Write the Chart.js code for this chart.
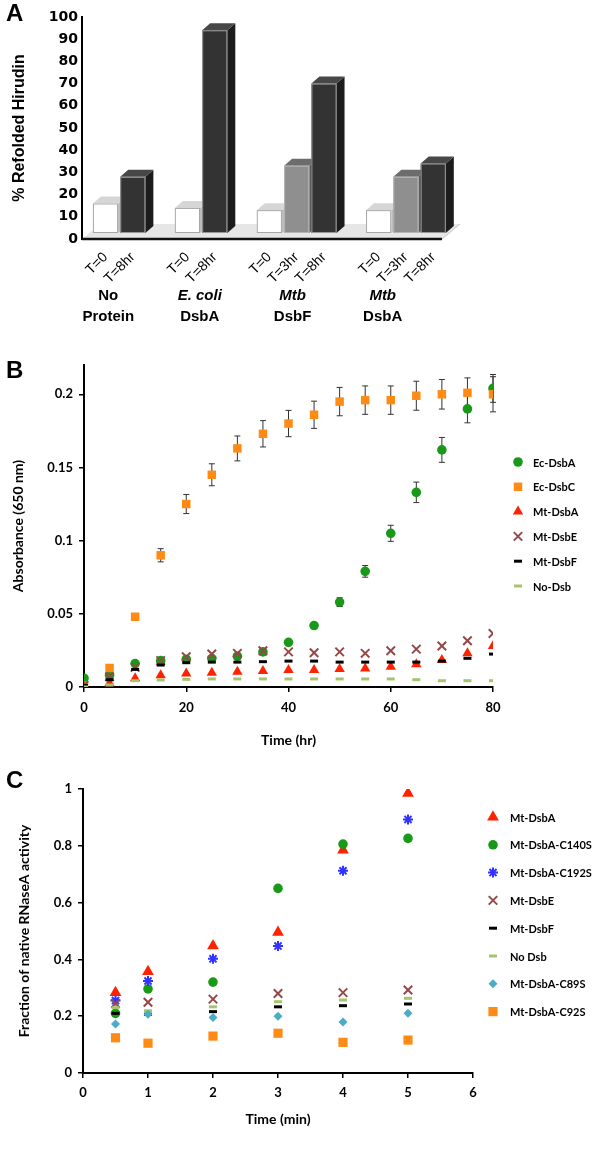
<!DOCTYPE html>
<html lang="en">
<head>
<meta charset="UTF-8">
<title>Disulfide oxidase activity</title>
<script src="https://cdn.jsdelivr.net/npm/chart.js"></script>
<style>
    body { margin: 0; background: #fff; }
    #page { position: relative; width: 600px; height: 1149px; overflow: hidden; }
    #page canvas { position: absolute; left: 0; }
    .tag { position: absolute; left: 6px; font: bold 24px "Liberation Sans", Arial, sans-serif; line-height: 1; }
</style>
</head>
<body>
<div id="page">
    <canvas id="chartA" width="600" height="330" style="top:0"></canvas>
    <canvas id="chartB" width="600" height="420" style="top:340px"></canvas>
    <canvas id="chartC" width="600" height="379" style="top:770px"></canvas>
    <div class="tag" style="top:1px">A</div>
    <div class="tag" style="top:358px">B</div>
    <div class="tag" style="top:768px">C</div>
</div>

<script>
// ---------- A: hirudin refolding ----------
const refoldLabels = ['T=0', 'T=8hr', 'T=0', 'T=8hr', 'T=0', 'T=3hr', 'T=8hr', 'T=0', 'T=3hr', 'T=8hr'];
const refoldSlots = [0, 1, 3, 4, 6, 7, 8, 10, 11, 12];
const refoldValues = [16, 28, 14, 94, 13, 33, 70, 13, 28, 34];
const groupTop = ['No', 'E. coli', 'Mtb', 'Mtb'];
const groupBottom = ['Protein', 'DsbA', 'DsbF', 'DsbA'];
const groupItalic = [false, true, true, true];
const groupAt = [0.1, 3.45, 6.85, 10.15];

// ---------- B: insulin reduction (absorbance) ----------
const hours = [0, 5, 10, 15, 20, 25, 30, 35, 40, 45, 50, 55, 60, 65, 70, 75, 80];
const ecDsbA = [0.006, 0.008, 0.016, 0.018, 0.019, 0.0195, 0.021, 0.024, 0.0305, 0.042, 0.058, 0.079, 0.105, 0.133, 0.162, 0.190, 0.204];
const ecDsbAErr = [0, 0, 0, 0, 0, 0, 0, 0, 0.001, 0.0015, 0.003, 0.004, 0.0055, 0.007, 0.0085, 0.0095, 0.0095];
const ecDsbC = [0.001, 0.013, 0.048, 0.090, 0.125, 0.145, 0.163, 0.173, 0.180, 0.186, 0.195, 0.196, 0.196, 0.199, 0.200, 0.201, 0.200];
const ecDsbCErr = [0, 0, 0.001, 0.0045, 0.0065, 0.0075, 0.0085, 0.009, 0.009, 0.0093, 0.0097, 0.0097, 0.0097, 0.0099, 0.0101, 0.0102, 0.012];
const mtDsbAAbs = [0.000, 0.0025, 0.006, 0.008, 0.0093, 0.0098, 0.0105, 0.011, 0.0116, 0.0116, 0.0123, 0.0127, 0.0139, 0.0155, 0.0184, 0.023, 0.028];
const mtDsbEAbs = [0.001, 0.007, 0.0134, 0.018, 0.0207, 0.0225, 0.023, 0.0248, 0.024, 0.0234, 0.024, 0.023, 0.0248, 0.0259, 0.028, 0.0316, 0.0366];
const mtDsbFAbs = [0.001, 0.005, 0.012, 0.015, 0.0166, 0.017, 0.017, 0.0173, 0.0177, 0.0177, 0.017, 0.017, 0.017, 0.017, 0.0177, 0.0196, 0.0225];
const noDsbAbs = [0.000, 0.0014, 0.0043, 0.0048, 0.0052, 0.0055, 0.0055, 0.0055, 0.0055, 0.0055, 0.0055, 0.0055, 0.0055, 0.005, 0.0043, 0.0043, 0.0043];
const absNames = ['Ec-DsbA', 'Ec-DsbC', 'Mt-DsbA', 'Mt-DsbE', 'Mt-DsbF', 'No-Dsb'];
const absValues = [ecDsbA, ecDsbC, mtDsbAAbs, mtDsbEAbs, mtDsbFAbs, noDsbAbs];
const absErrors = [ecDsbAErr, ecDsbCErr, null, null, null, null];

// ---------- C: RNaseA refolding ----------
const minutes = [0.5, 1, 2, 3, 4, 5];
const rnMtDsbA = [0.283, 0.357, 0.448, 0.495, 0.785, 0.985];
const rnC140S = [0.21, 0.296, 0.32, 0.65, 0.806, 0.826];
const rnC192S = [0.255, 0.324, 0.402, 0.447, 0.712, 0.893];
const rnMtDsbE = [0.245, 0.249, 0.26, 0.28, 0.283, 0.292];
const rnMtDsbF = [0.21, 0.207, 0.216, 0.233, 0.237, 0.243];
const rnNoDsb = [0.23, 0.219, 0.233, 0.251, 0.257, 0.263];
const rnC89S = [0.1725, 0.207, 0.195, 0.2, 0.18, 0.21];
const rnC92S = [0.124, 0.105, 0.13, 0.14, 0.108, 0.116];
const rnNames = ['Mt-DsbA', 'Mt-DsbA-C140S', 'Mt-DsbA-C192S', 'Mt-DsbE', 'Mt-DsbF', 'No Dsb', 'Mt-DsbA-C89S', 'Mt-DsbA-C92S'];
const rnValues = [rnMtDsbA, rnC140S, rnC192S, rnMtDsbE, rnMtDsbF, rnNoDsb, rnC89S, rnC92S];

// marker looks, by series name
const markers = {
    'Ec-DsbA':       { pointStyle: 'circle',   pointRadius: 4.8, color: '#189a18', pointBorderWidth: 0 },
    'Ec-DsbC':       { pointStyle: 'rect',     pointRadius: 6,   color: '#ff8a14', pointBorderWidth: 0 },
    'Mt-DsbA':       { pointStyle: 'triangle', pointRadius: 6,   color: '#ff2200', pointBorderWidth: 0 },
    'Mt-DsbE':       { pointStyle: 'crossRot', pointRadius: 6,   color: '#954848', pointBorderWidth: 2 },
    'Mt-DsbF':       { pointStyle: 'line',     pointRadius: 4,   color: '#000000', pointBorderWidth: 3 },
    'No-Dsb':        { pointStyle: 'line',     pointRadius: 4,   color: '#a6c46e', pointBorderWidth: 3 },
    'No Dsb':        { pointStyle: 'line',     pointRadius: 4,   color: '#a6c46e', pointBorderWidth: 3 },
    'Mt-DsbA-C140S': { pointStyle: 'circle',   pointRadius: 4.8, color: '#189a18', pointBorderWidth: 0 },
    'Mt-DsbA-C192S': { pointStyle: 'star',     pointRadius: 5,   color: '#3333ff', pointBorderWidth: 2 },
    'Mt-DsbA-C89S':  { pointStyle: 'rectRot',  pointRadius: 4.5, color: '#4bacc6', pointBorderWidth: 0 },
    'Mt-DsbA-C92S':  { pointStyle: 'rect',     pointRadius: 6.5, color: '#ff8a14', pointBorderWidth: 0 }
};
const bigMarkers = { 'Mt-DsbA': 6.8 };   // panel C triangles are drawn a bit larger

Chart.defaults.font.family = 'Lato, "Liberation Sans", sans-serif';
Chart.defaults.color = '#000';
Chart.defaults.animation = false;
Chart.defaults.plugins.legend.display = false;
Chart.defaults.plugins.tooltip.enabled = false;

function scatterSets(names, xs, values, errors, sizeOverride) {
    return names.map((name, i) => {
        const m = markers[name];
        return {
            label: name,
            data: xs.map((x, j) => ({ x: x, y: values[i][j] })),
            errors: errors ? errors[i] : null,
            pointStyle: m.pointStyle,
            pointRadius: (sizeOverride && sizeOverride[name]) || m.pointRadius,
            pointBackgroundColor: m.color,
            pointBorderColor: m.color,
            pointBorderWidth: m.pointBorderWidth,
            order: names.length - i   // later series on top, as in the original
        };
    });
}

// vertical error bars under the markers
const errorBars = {
    id: 'errorBars',
    beforeDatasetsDraw(chart) {
        const { ctx, scales: { x, y } } = chart;
        ctx.save();
        ctx.strokeStyle = '#333';
        ctx.lineWidth = 1;
        chart.data.datasets.forEach(ds => {
            if (!ds.errors) return;
            ds.data.forEach((p, i) => {
                const e = ds.errors[i];
                if (!e) return;
                const px = x.getPixelForValue(p.x);
                const top = y.getPixelForValue(p.y + e);
                const bot = y.getPixelForValue(p.y - e);
                ctx.beginPath();
                ctx.moveTo(px, top); ctx.lineTo(px, bot);
                ctx.moveTo(px - 3, top); ctx.lineTo(px + 3, top);
                ctx.moveTo(px - 3, bot); ctx.lineTo(px + 3, bot);
                ctx.stroke();
            });
        });
        ctx.restore();
    }
};

// legend column to the right of the plot
const markerLegend = {
    id: 'markerLegend',
    afterDraw(chart, args, opts) {
        const ctx = chart.ctx;
        ctx.save();
        ctx.font = opts.font;
        ctx.textBaseline = 'middle';
        ctx.textAlign = 'left';
        chart.data.datasets.forEach((ds, i) => {
            const yy = opts.top + i * opts.step;
            ctx.fillStyle = ds.pointBackgroundColor;
            ctx.strokeStyle = ds.pointBorderColor;
            ctx.lineWidth = ds.pointBorderWidth;
            Chart.helpers.drawPoint(ctx, {
                pointStyle: ds.pointStyle,
                radius: ds.pointRadius,
                rotation: 0,
                borderWidth: ds.pointBorderWidth
            }, opts.markerX, yy);
            ctx.fillStyle = '#000';
            ctx.fillText(ds.label, opts.textX, yy + 1);
        });
        ctx.restore();
    }
};

// ---------- chart A ----------
const faceColours = {
    'T=0':   { front: '#ffffff', top: '#d6d6d6', side: '#bdbdbd', edge: '#a8a8a8' },
    'T=3hr': { front: '#8f8f8f', top: '#6c6c6c', side: '#5a5a5a', edge: '#b5b5b5' },
    'T=8hr': { front: '#333333', top: '#474747', side: '#1c1c1c', edge: '#9a9a9a' }
};
const depthX = 8, depthY = -7;

const bars3d = {
    id: 'bars3d',
    beforeDatasetsDraw(chart) {
        const { ctx, chartArea, scales: { x, y } } = chart;
        const y0 = y.getPixelForValue(0);
        const right = x.getPixelForValue(x.max);
        ctx.save();
        ctx.fillStyle = '#e6e6e6';
        ctx.beginPath();
        ctx.moveTo(chartArea.left, y0);
        ctx.lineTo(right - 18, y0);
        ctx.lineTo(right, y0 - 15);
        ctx.lineTo(chartArea.left + 18, y0 - 15);
        ctx.closePath();
        ctx.fill();
        ctx.strokeStyle = '#c4c4c4';
        ctx.lineWidth = 1;
        ctx.beginPath();
        ctx.moveTo(right - 18, y0); ctx.lineTo(right, y0 - 15);
        ctx.stroke();
        ctx.strokeStyle = '#111';
        ctx.lineWidth = 2.5;
        ctx.beginPath();
        ctx.moveTo(chartArea.left, y0); ctx.lineTo(right - 18, y0);
        ctx.stroke();
        ctx.restore();
    },
    afterDatasetsDraw(chart) {
        const ctx = chart.ctx;
        const meta = chart.getDatasetMeta(0);
        ctx.save();
        meta.data.forEach((bar, i) => {
            const p = bar.getProps(['x', 'y', 'base', 'width'], true);
            const l = p.x - p.width / 2, r = p.x + p.width / 2;
            const c = faceColours[refoldLabels[i]];
            // side face
            ctx.fillStyle = c.side;
            ctx.beginPath();
            ctx.moveTo(r, p.y); ctx.lineTo(r + depthX, p.y + depthY);
            ctx.lineTo(r + depthX, p.base + depthY); ctx.lineTo(r, p.base);
            ctx.closePath(); ctx.fill();
            // top face
            ctx.fillStyle = c.top;
            ctx.beginPath();
            ctx.moveTo(l, p.y); ctx.lineTo(l + depthX, p.y + depthY);
            ctx.lineTo(r + depthX, p.y + depthY); ctx.lineTo(r, p.y);
            ctx.closePath(); ctx.fill();
            // front face
            ctx.fillStyle = c.front;
            ctx.fillRect(l, p.y, p.width, p.base - p.y);
            ctx.strokeStyle = c.edge;
            ctx.lineWidth = 1;
            ctx.strokeRect(l + 0.5, p.y + 0.5, p.width - 1, p.base - p.y - 1);
        });
        ctx.restore();
    },
    afterDraw(chart) {
        const { ctx, chartArea, scales: { x } } = chart;
        ctx.save();
        ctx.fillStyle = '#000';
        ctx.textAlign = 'center';
        ctx.textBaseline = 'middle';
        groupTop.forEach((t, i) => {
            const cx = x.getPixelForValue(groupAt[i]);
            ctx.font = (groupItalic[i] ? 'italic ' : '') + 'bold 15px "Liberation Sans", Arial, sans-serif';
            ctx.fillText(t, cx, chartArea.bottom + 57);
            ctx.font = 'bold 15px "Liberation Sans", Arial, sans-serif';
            ctx.fillText(groupBottom[i], cx, chartArea.bottom + 78);
        });
        ctx.restore();
    }
};

new Chart(document.getElementById('chartA'), {
    type: 'bar',
    data: {
        datasets: [{
            data: refoldSlots.map((s, i) => ({ x: s, y: refoldValues[i] })),
            backgroundColor: 'rgba(0,0,0,0)',
            borderWidth: 0,
            base: 2.7,
            barPercentage: 0.92,
            categoryPercentage: 1
        }]
    },
    options: {
        responsive: false,
        devicePixelRatio: 1,
        layout: { padding: { top: 17, right: 140, left: 0, bottom: 0 } },
        scales: {
            x: {
                type: 'linear',
                min: -0.86,
                max: 12.98,
                offset: false,
                afterBuildTicks: axis => { axis.ticks = refoldSlots.map(v => ({ value: v })); },
                afterFit: axis => { axis.height = 91; },
                ticks: {
                    autoSkip: false,
                    minRotation: 45,
                    maxRotation: 45,
                    padding: 2,
                    font: { family: '"Liberation Sans", Arial, sans-serif', size: 14 },
                    callback: v => refoldLabels[refoldSlots.indexOf(v)]
                },
                grid: { display: false },
                border: { display: false }
            },
            y: {
                min: 0,
                max: 100,
                afterFit: axis => { axis.width = 82; },
                ticks: {
                    stepSize: 10,
                    padding: 4,
                    font: { family: '"DejaVu Sans", sans-serif', size: 14, weight: 'bold' }
                },
                grid: { display: true, drawOnChartArea: false, drawTicks: false, color: 'rgba(0,0,0,0)' },
                border: { display: true, color: '#000', width: 2 },
                title: {
                    display: true,
                    text: '% Refolded Hirudin',
                    font: { family: '"Liberation Sans", Arial, sans-serif', size: 16, weight: 'bold' },
                    padding: { top: 10, bottom: 0 }
                }
            }
        }
    },
    plugins: [bars3d]
});

// ---------- chart B ----------
new Chart(document.getElementById('chartB'), {
    type: 'scatter',
    data: { datasets: scatterSets(absNames, hours, absValues, absErrors) },
    options: {
        responsive: false,
        devicePixelRatio: 1,
        layout: { padding: { top: 25, right: 107, left: 0, bottom: 0 } },
        scales: {
            x: {
                type: 'linear',
                min: 0,
                max: 80,
                afterFit: axis => { axis.height = 73; },
                ticks: { stepSize: 20, padding: 8, font: { size: 13, weight: 'bold' } },
                grid: { drawOnChartArea: false, tickLength: 5, color: '#000', lineWidth: 1.5 },
                border: { color: '#000', width: 2 },
                title: { display: true, text: 'Time (hr)', font: { size: 14, weight: 'bold' }, padding: { top: 0, bottom: 11 } }
            },
            y: {
                min: 0,
                max: 0.22,
                afterFit: axis => { axis.width = 84; },
                afterBuildTicks: axis => { axis.ticks = axis.ticks.filter(t => t.value <= 0.2001); },
                ticks: {
                    stepSize: 0.05,
                    padding: 6,
                    font: { size: 13, weight: 'bold' },
                    callback: v => String(+v.toFixed(2))
                },
                grid: { drawOnChartArea: false, tickLength: 5, color: '#000', lineWidth: 1.5 },
                border: { color: '#000', width: 2 },
                title: { display: true, text: 'Absorbance (650 nm)', font: { size: 14, weight: 'bold' }, padding: { top: 10, bottom: 0 } }
            }
        },
        plugins: {
            markerLegend: { top: 122, step: 24.8, markerX: 518, textX: 533, font: 'bold 11px Lato, sans-serif' }
        }
    },
    plugins: [errorBars, markerLegend]
});

// ---------- chart C ----------
new Chart(document.getElementById('chartC'), {
    type: 'scatter',
    data: { datasets: scatterSets(rnNames, minutes, rnValues, null, bigMarkers) },
    options: {
        responsive: false,
        devicePixelRatio: 1,
        layout: { padding: { top: 19, right: 127, left: 0, bottom: 0 } },
        scales: {
            x: {
                type: 'linear',
                min: 0,
                max: 6,
                afterFit: axis => { axis.height = 76; },
                ticks: { stepSize: 1, padding: 7, font: { size: 13, weight: 'bold' } },
                grid: { drawOnChartArea: false, tickLength: 5, color: '#000', lineWidth: 1.5 },
                border: { color: '#000', width: 2 },
                title: { display: true, text: 'Time (min)', font: { size: 14, weight: 'bold' }, padding: { top: 0, bottom: 21 } }
            },
            y: {
                min: 0,
                max: 1,
                afterFit: axis => { axis.width = 83; },
                ticks: {
                    stepSize: 0.2,
                    padding: 6,
                    font: { size: 13, weight: 'bold' },
                    callback: v => String(+v.toFixed(1))
                },
                grid: { drawOnChartArea: false, tickLength: 5, color: '#000', lineWidth: 1.5 },
                border: { color: '#000', width: 2 },
                title: { display: true, text: 'Fraction of native RNaseA activity', font: { size: 14, weight: 'bold' }, padding: { top: 16, bottom: 0 } }
            }
        },
        plugins: {
            markerLegend: { top: 47, step: 27.8, markerX: 493, textX: 510, font: 'bold 11px Lato, sans-serif' }
        }
    },
    plugins: [errorBars, markerLegend]
});
</script>
</body>
</html>
